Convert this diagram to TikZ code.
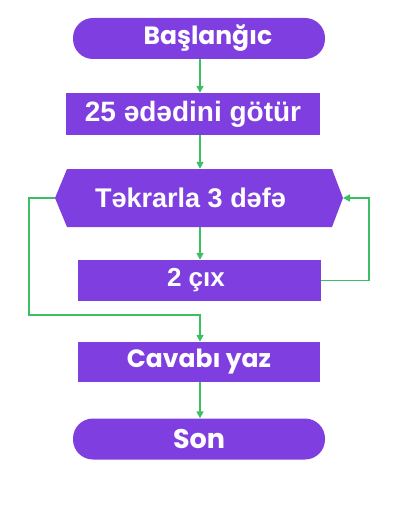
\documentclass[tikz,border=0pt]{standalone}
\usepackage{fontspec}
\setmainfont{Liberation Sans}
\newfontfamily\popfont{Poppins}
\usetikzlibrary{arrows.meta}
\definecolor{flowpurple}{HTML}{7F3FE0}
\definecolor{flowgreen}{HTML}{3DBE62}
\begin{document}
\begin{tikzpicture}[x=1pt,y=-1pt,
  term/.style={fill=flowpurple,draw=none,rounded corners=20pt,text=white,font=\popfont\bfseries\fontsize{25}{28}\selectfont,minimum width=252pt,minimum height=41pt,inner sep=0pt},
  proc/.style={fill=flowpurple,draw=none,text=white,font=\bfseries\fontsize{28}{31}\selectfont,minimum height=42pt,inner sep=0pt},
  conn/.style={draw=flowgreen,line width=1.6pt,-{Triangle[length=7pt,width=7pt]}}]
\useasboundingbox (0,0) rectangle (404,505);
\node[term] (start) at (199,38.5) {\hspace*{18pt}Başlanğıc};
\node[proc,minimum width=254pt] (take) at (193,114) {25 ədədini götür};
\fill[flowpurple] (55,198) -- (67,169) -- (332,169) -- (343,198) -- (332,227) -- (67,227) -- cycle;
\coordinate (hexL) at (55,198);
\coordinate (hexR) at (343,198);
\node[font=\bfseries\fontsize{27}{30}\selectfont,text=white,minimum width=276pt,minimum height=58pt,inner sep=0pt] (loop) at (199,198) {Təkrarla 3 dəfə\hspace*{17pt}};
\node[proc,font=\bfseries\fontsize{26}{29}\selectfont,minimum width=243pt,minimum height=41pt] (sub) at (199.5,280.5) {2 çıx\hspace*{7pt}};
\node[term,rounded corners=0pt,minimum width=242pt,minimum height=40pt] (write) at (199,362) {Cavabı yaz};
\node[term,font=\popfont\bfseries\fontsize{27}{30}\selectfont] (stop) at (199,439) {Son};
\draw[conn] (start.south -| 200,0) -- (take.north -| 200,0);
\draw[conn] (take.south -| 200,0) -- (loop.north -| 200,0);
\draw[conn] (loop.south -| 200,0) -- (sub.north -| 200,0);
\draw[conn] (sub.east) -- (369,280.5) -- (369,198) -- (hexR);
\draw[conn] (hexL) -- (29,198) -- (29,315) -- (200,315) -- (write.north -| 200,0);
\draw[conn] (write.south -| 200,0) -- (stop.north -| 200,0);
\end{tikzpicture}
\end{document}
